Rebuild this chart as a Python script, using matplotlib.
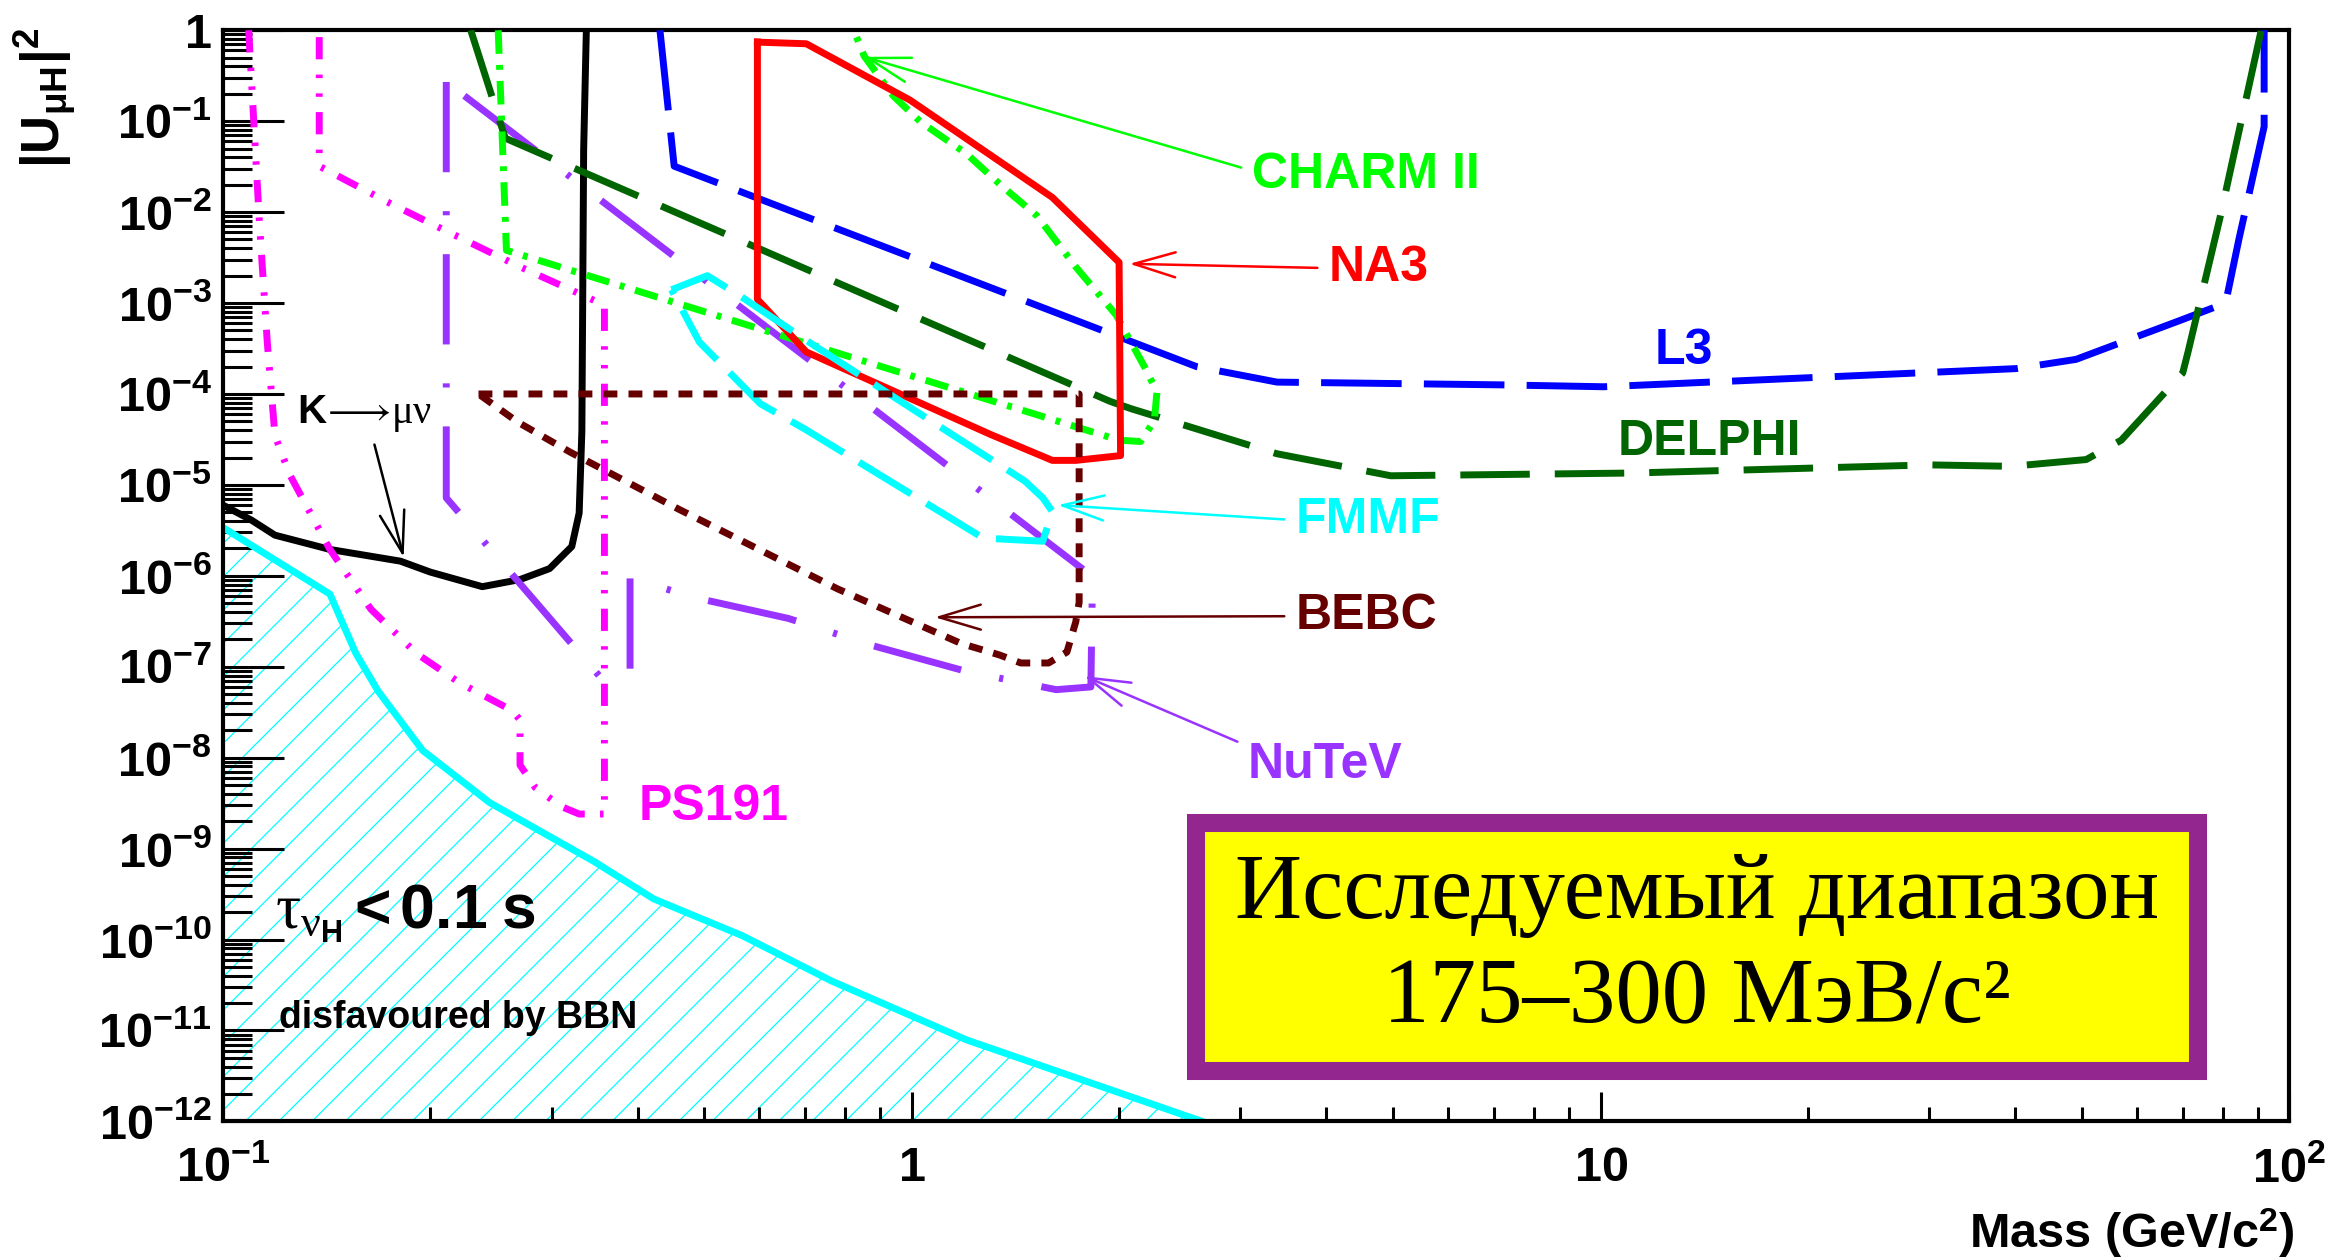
import numpy as np
import matplotlib
matplotlib.use('Agg')
import matplotlib.pyplot as plt
from matplotlib.ticker import FixedLocator, FuncFormatter, LogLocator, NullFormatter
from matplotlib.patches import Rectangle

# ---------------- data (mass in GeV/c^2, |U|^2) ----------------
bbn_m = [0.1, 0.143, 0.156, 0.168, 0.195, 0.244, 0.346, 0.422, 0.568, 0.765, 1.2, 2.64]
bbn_u = [3.4e-6, 6.3e-7, 1.4e-7, 5.4e-8, 1.2e-8, 3.2e-9, 7.2e-10, 2.8e-10, 1.1e-10, 3.5e-11, 7.9e-12, 1e-12]

kmu_m = [0.1, 0.110, 0.119, 0.143, 0.181, 0.200, 0.238, 0.270, 0.298, 0.321, 0.329, 0.332, 0.334, 0.337]
kmu_u = [6.0e-6, 4.1e-6, 2.8e-6, 1.95e-6, 1.45e-6, 1.1e-6, 7.6e-7, 9.1e-7, 1.2e-6, 2.1e-6, 4.9e-6, 3.9e-5, 4.9e-2, 1.0]

ps_m = [0.109, 0.113, 0.116, 0.119, 0.125, 0.143, 0.164, 0.191, 0.221, 0.263, 0.270, 0.270,
        0.284, 0.310, 0.329, 0.358, 0.358, 0.270, 0.210, 0.173, 0.138, 0.138]
ps_u = [1.0, 7.6e-3, 3.7e-4, 3.5e-5, 1.3e-5, 1.95e-6, 4.3e-7, 1.4e-7, 6.6e-8, 3.3e-8, 2.6e-8, 8.3e-9,
        4.7e-9, 2.9e-9, 2.4e-9, 2.4e-9, 9.5e-4, 2.5e-3, 6.3e-3, 1.3e-2, 3.2e-2, 1.0]

nu_m = [0.211, 0.211, 0.352, 0.390, 0.390, 0.482, 0.662, 0.879, 1.20, 1.62, 1.82, 1.83, 0.211]
nu_u = [0.27, 7.2e-6, 7.9e-8, 7.9e-8, 9.5e-7, 5.8e-7, 3.4e-7, 1.7e-7, 8.9e-8, 5.6e-8, 6.0e-8, 9.8e-7, 0.27]

l3_m = [0.431, 0.452, 2.59, 3.39, 7.13, 10.1, 40.1, 49, 70, 80.8, 84.5, 91.9, 91.9]
l3_u = [1.0, 3.2e-2, 2.0e-4, 1.35e-4, 1.26e-4, 1.2e-4, 1.9e-4, 2.4e-4, 6.6e-4, 1.0e-3, 5.1e-3, 8.7e-2, 1.0]

de_m = [0.229, 0.257, 1.94, 2.08, 3.39, 4.96, 11.1, 30, 39.5, 50.7, 57, 70, 71.3, 79.3, 91]
de_u = [1.0, 6.5e-2, 8.3e-5, 6.9e-5, 2.2e-5, 1.26e-5, 1.35e-5, 1.66e-5, 1.6e-5, 1.9e-5, 3.1e-5,
        1.7e-4, 2.95e-4, 8.7e-3, 1.0]

ch_m = [0.251, 0.258, 2.0, 2.15, 2.25, 2.27, 2.18, 1.98, 1.73, 1.52, 1.35, 1.20, 1.03, 0.94, 0.853, 0.824]
ch_u = [1.0, 3.8e-3, 3.1e-5, 3.0e-5, 5.1e-5, 1.05e-4, 1.95e-4, 7.4e-4, 2.5e-3, 9.1e-3, 1.95e-2,
        4.4e-2, 9.8e-2, 0.19, 0.52, 1.0]

na_m = [0.597, 0.703, 0.995, 1.60, 2.0, 2.01, 1.73, 1.60, 1.30, 0.703, 0.597, 0.597]
na_u = [0.74, 0.71, 0.17, 1.45e-2, 2.8e-3, 2.1e-5, 1.86e-5, 1.86e-5, 3.6e-5, 2.9e-4, 1.1e-3, 0.74]

fm_m = [0.448, 0.505, 0.563, 0.718, 1.06, 1.46, 1.55, 1.60, 1.55, 1.27, 0.70, 0.603, 0.492, 0.448]
fm_u = [1.4e-3, 2.0e-3, 1.2e-3, 3.5e-4, 5.2e-5, 1.1e-5, 7.2e-6, 5.1e-6, 2.4e-6, 2.6e-6, 4.1e-5,
        7.8e-5, 3.7e-4, 1.4e-3]

be_m = [0.235, 1.75, 1.75, 1.73, 1.68, 1.58, 1.44, 1.34, 1.18, 0.78, 0.459, 0.319, 0.268, 0.235]
be_u = [1e-4, 1e-4, 5.1e-7, 3.1e-7, 1.45e-7, 1.1e-7, 1.1e-7, 1.35e-7, 1.8e-7, 7.2e-7, 5.4e-6,
        2.3e-5, 4.9e-5, 1e-4]

x_major = [0.1, 1, 10, 100]
y_major = [10.0 ** k for k in range(-12, 1)]

box_line1 = 'Исследуемый диапазон'
box_line2 = '175–300 МэВ/c²'

# ---------------- style ----------------
plt.rcParams['font.family'] = ['Liberation Sans', 'DejaVu Sans']
plt.rcParams['mathtext.fontset'] = 'custom'
plt.rcParams['mathtext.rm'] = 'Liberation Serif'
plt.rcParams['mathtext.it'] = 'Liberation Serif:italic'
plt.rcParams['mathtext.bf'] = 'Liberation Sans:bold'
plt.rcParams['mathtext.default'] = 'rm'
plt.rcParams['hatch.linewidth'] = 0.9

C_L3 = '#0000ff'
C_DE = '#006400'
C_CH = '#00ff00'
C_NA = '#ff0000'
C_FM = '#00ffff'
C_BE = '#660000'
C_NU = '#9933ff'
C_PS = '#ff00ff'
C_BBN = '#00ffff'

fig = plt.figure(figsize=(23.29, 12.60), dpi=100)
ax = fig.add_axes([0.0957, 0.110, 0.8873, 0.866])
ax.set_xscale('log')
ax.set_yscale('log')
ax.set_xlim(0.1, 100)
ax.set_ylim(1e-12, 1)

LW = 5.0
ax.fill_between(bbn_m, bbn_u, 1e-12, facecolor='none', edgecolor=C_BBN, hatch='/', linewidth=0, zorder=1)
ax.plot(bbn_m, bbn_u, color=C_BBN, lw=LW, zorder=2)

ax.plot(kmu_m, kmu_u, color='black', lw=LW, zorder=3)
ax.plot(ps_m, ps_u, color=C_PS, lw=LW, linestyle=(0, (3.2, 2.2, 0.5, 2.2, 0.5, 2.2)), zorder=3)
ax.plot(nu_m, nu_u, color=C_NU, lw=LW, linestyle=(0, (13, 5.6, 0.6, 5.6)), zorder=3)
ax.plot(l3_m, l3_u, color=C_L3, lw=LW, linestyle=(0, (11.6, 3.2)), zorder=3)
ax.plot(de_m, de_u, color=C_DE, lw=LW, linestyle=(0, (10, 3.6)), zorder=3)
ax.plot(ch_m, ch_u, color=C_CH, lw=LW, linestyle=(0, (3.4, 1.6, 0.7, 1.6)), zorder=3)
ax.plot(na_m, na_u, color=C_NA, lw=LW, zorder=3)
ax.plot(fm_m, fm_u, color=C_FM, lw=LW, linestyle=(0, (8.8, 2.6)), zorder=3)
ax.plot(be_m, be_u, color=C_BE, lw=LW, linestyle=(0, (2.0, 1.6)), zorder=3)

# ---------------- axes / ticks ----------------
def log_fmt(v, pos):
    e = int(round(np.log10(v)))
    if e == 0:
        return r'$\mathbf{1}$'
    if e == 1:
        return r'$\mathbf{10}$'
    return r'$\mathbf{10^{%d}}$' % e

ax.xaxis.set_major_locator(FixedLocator(x_major))
ax.yaxis.set_major_locator(FixedLocator(y_major))
ax.xaxis.set_minor_locator(LogLocator(base=10, subs=range(2, 10), numticks=100))
ax.yaxis.set_minor_locator(LogLocator(base=10, subs=range(2, 10), numticks=100))
ax.xaxis.set_major_formatter(FuncFormatter(log_fmt))
ax.yaxis.set_major_formatter(FuncFormatter(log_fmt))
ax.xaxis.set_minor_formatter(NullFormatter())
ax.yaxis.set_minor_formatter(NullFormatter())

ax.tick_params(axis='y', which='major', direction='in', length=44, width=2.2, right=False, labelsize=35, pad=8)
ax.tick_params(axis='y', which='minor', direction='in', length=21, width=2.2, right=False)
ax.tick_params(axis='x', which='major', direction='in', length=21, width=2.2, top=False, labelsize=35, pad=18)
ax.tick_params(axis='x', which='minor', direction='in', length=10, width=2.2, top=False)
for s in ax.spines.values():
    s.set_linewidth(3)

fig.text(0.019, 0.978, r'$\mathbf{|U_{\mu H}|^{2}}$', rotation=90, ha='center', va='top', fontsize=38)
fig.text(0.985, 0.021, r'Mass (GeV/c$^{\mathbf{2}}$)', ha='right', va='center', fontsize=35, fontweight='bold')

# ---------------- labels & arrows ----------------
def label(text, xy, xytext, color, relpos=(0, 0.5), size=36):
    if xy is not None:
        arrow = dict(arrowstyle='->,head_length=1.0,head_width=0.3', color=color, lw=1.8,
                     shrinkA=6, shrinkB=0, relpos=relpos, mutation_scale=30)
        ax.annotate(text, xy=xy, xycoords='data', xytext=xytext, textcoords='axes fraction',
                    ha='left', va='center', fontsize=size, fontweight='bold', color=color,
                    arrowprops=arrow, zorder=7)
    else:
        ax.text(xytext[0], xytext[1], text, transform=ax.transAxes, ha='left', va='center',
                fontsize=size, fontweight='bold', color=color, zorder=7)

label('CHARM II', (0.853, 0.51), (0.498, 0.867), C_CH, relpos=(0, 0.6))
label('NA3', (2.07, 2.7e-3), (0.535, 0.782), C_NA)
label('L3', None, (0.693, 0.706), C_L3)
label('DELPHI', None, (0.675, 0.623), C_DE)
label('FMMF', (1.63, 6e-6), (0.519, 0.551), C_FM)
label('BEBC', (1.08, 3.5e-7), (0.519, 0.463), C_BE)
label('NuTeV', (1.78, 7.9e-8), (0.496, 0.327), C_NU, relpos=(0, 0.9))
label('PS191', None, (0.201, 0.288), C_PS)
label(r'$\mathbf{K}\!\longrightarrow\!\mu\nu$', (0.183, 1.6e-6), (0.036, 0.649), 'black', relpos=(0.55, 0), size=29)

ax.text(0.025, 0.190, r'$\tau_{\nu_{\mathbf{H}}}\mathbf{<0.1\ s}$', transform=ax.transAxes,
        ha='left', va='center', fontsize=45, color='black', zorder=7)
ax.text(0.027, 0.095, 'disfavoured by BBN', transform=ax.transAxes, ha='left', va='center',
        fontsize=27, fontweight='bold', color='black', zorder=7)

# ---------------- highlighted box ----------------
ax.add_patch(Rectangle((0.471, 0.046), 0.485, 0.2275, transform=ax.transAxes,
                       facecolor='#ffff00', edgecolor='#93278f', linewidth=13, zorder=5))
ax.text(0.7135, 0.207, box_line1, transform=ax.transAxes, ha='center', va='center',
        fontsize=67, family=['Liberation Serif', 'DejaVu Serif'], zorder=6)
ax.text(0.7135, 0.111, box_line2, transform=ax.transAxes, ha='center', va='center',
        fontsize=67, family=['Liberation Serif', 'DejaVu Serif'], zorder=6)

fig.savefig('out.png', dpi=100, facecolor='white')
